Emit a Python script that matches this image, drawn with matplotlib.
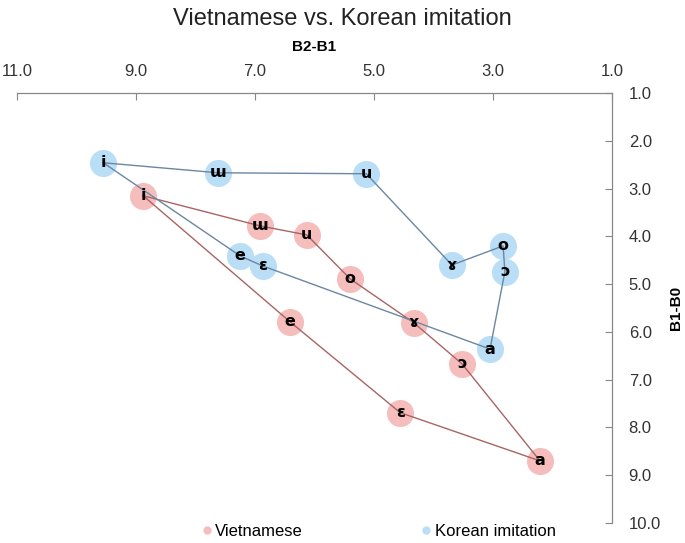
import matplotlib.pyplot as plt
from matplotlib.lines import Line2D

plt.rcParams['font.family'] = ['Liberation Sans', 'DejaVu Sans']

# vowel labels, in drawing order (polygon closes back to the first point)
viet_labels = ['i', 'ɯ', 'u', 'o', 'ɤ', 'ɔ', 'a', 'ɛ', 'e']
viet_x = [8.88, 6.92, 6.13, 5.40, 4.33, 3.52, 2.21, 4.56, 6.41]   # B2-B1
viet_y = [3.15, 3.78, 3.97, 4.89, 5.81, 6.67, 8.70, 7.69, 5.79]   # B1-B0

kor_labels = ['i', 'ɯ', 'u', 'ɤ', 'o', 'ɔ', 'a', 'ɛ', 'e']
kor_x = [9.55, 7.62, 5.13, 3.69, 2.83, 2.80, 3.05, 6.87, 7.25]
kor_y = [2.46, 2.67, 2.69, 4.60, 4.20, 4.74, 6.36, 4.62, 4.41]

x_ticks = [11.0, 9.0, 7.0, 5.0, 3.0, 1.0]
y_ticks = [1.0, 2.0, 3.0, 4.0, 5.0, 6.0, 7.0, 8.0, 9.0, 10.0]

VIET_FILL = '#F6BDBD'
VIET_LINE = '#A96464'
KOR_FILL = '#B9DEF6'
KOR_LINE = '#6A87A3'

fig = plt.figure(figsize=(6.85, 5.43), dpi=100)
ax = fig.add_axes([17/685, 1 - 523/543, (612-17)/685, (523-93)/543])

# markers
ax.plot(viet_x, viet_y, 'o', ms=19.5, color=VIET_FILL, mec='none', zorder=2)
ax.plot(kor_x, kor_y, 'o', ms=19.5, color=KOR_FILL, mec='none', zorder=2)

# closed outlines
ax.plot(viet_x + viet_x[:1], viet_y + viet_y[:1], color=VIET_LINE, lw=1.0, zorder=3)
ax.plot(kor_x + kor_x[:1], kor_y + kor_y[:1], color=KOR_LINE, lw=1.0, zorder=3)

for xs, ys, labs in [(viet_x, viet_y, viet_labels), (kor_x, kor_y, kor_labels)]:
    for x, y, t in zip(xs, ys, labs):
        ax.text(x, y, t, ha='center', va='center', fontsize=11.5, fontweight='bold',
                color='black', zorder=4, family=['DejaVu Sans'])

ax.set_xlim(11, 1)
ax.set_ylim(10, 1)
ax.set_xticks(x_ticks)
ax.set_yticks(y_ticks)
ax.set_xticklabels([f'{v:.1f}' for v in x_ticks])
ax.set_yticklabels([f'{v:.1f}' for v in y_ticks])

ax.xaxis.tick_top()
ax.yaxis.tick_right()
ax.xaxis.set_label_position('top')
ax.yaxis.set_label_position('right')
ax.tick_params(axis='both', direction='in', length=5, width=0.8, color='#888888',
               labelsize=12, labelcolor='#333333')
ax.tick_params(axis='x', pad=10)
ax.tick_params(axis='y', pad=12)

for side in ['left', 'bottom']:
    ax.spines[side].set_visible(False)
for side in ['top', 'right']:
    ax.spines[side].set_color('#888888')
    ax.spines[side].set_linewidth(0.9)

ax.set_xlabel('B2-B1', fontsize=11, fontweight='bold')
ax.set_ylabel('B1-B0', fontsize=11, fontweight='bold')
ax.xaxis.set_label_coords(0.5, 1 + (93-47)/430)
ax.yaxis.set_label_coords((676-17)/595, 0.5)
ax.xaxis.label.set_va('center')
ax.yaxis.label.set_va('center')

fig.suptitle('Vietnamese vs. Korean imitation', fontsize=17, color='#222222', y=1 - 19/543, va='center')

handles = [Line2D([], [], ls='none', marker='o', ms=6, color=VIET_FILL, mec='none'),
           Line2D([], [], ls='none', marker='o', ms=6, color=KOR_FILL, mec='none')]
fig.legend(handles, ['Vietnamese', 'Korean imitation'], loc='center',
           bbox_to_anchor=(378/685, 1 - 531/543), ncol=2, frameon=False,
           fontsize=12, handletextpad=0.1, columnspacing=7, handlelength=0.8)

fig.savefig('out.png', dpi=100)
